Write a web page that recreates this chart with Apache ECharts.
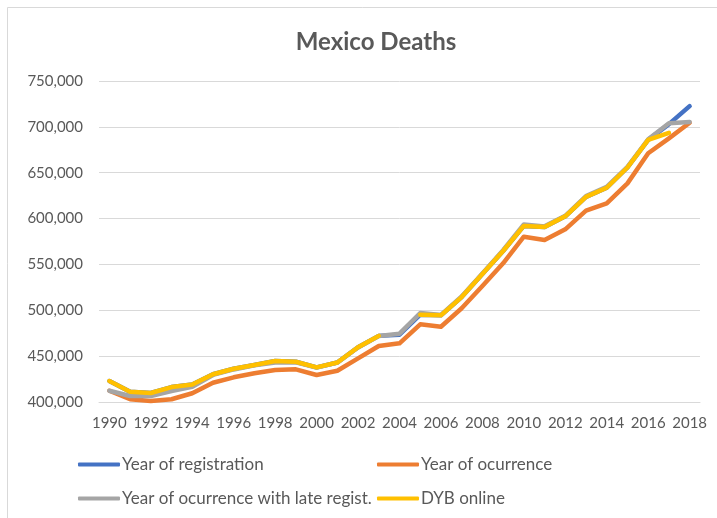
<!DOCTYPE html>
<html>
<head>
<meta charset="utf-8">
<script src="https://cdn.jsdelivr.net/npm/echarts@6/dist/echarts.min.js"></script>
<style>
  html, body { margin: 0; padding: 0; background: #fff; }
  #main { width: 717px; height: 518px; }
</style>
</head>
<body>
<div id="main"></div>
<script>
// 数据
var years = ['1990', '1991', '1992', '1993', '1994', '1995', '1996', '1997', '1998', '1999',
  '2000', '2001', '2002', '2003', '2004', '2005', '2006', '2007', '2008', '2009',
  '2010', '2011', '2012', '2013', '2014', '2015', '2016', '2017', '2018'];

var registration = [422800, 411100, 409800, 416300, 419100, 430300, 436300, 440400, 444700, 443900,
  437700, 443100, 459700, 472100, 473400, 495200, 494500, 514400, 539500, 564700,
  592000, 590700, 602400, 623600, 633600, 655700, 685800, 703000, 722600];

var occurrence = [412300, 403000, 401100, 403000, 409500, 421000, 426900, 431300, 434900, 435600,
  429400, 434100, 447600, 461000, 464000, 484700, 482100, 502200, 526500, 551200,
  580200, 576600, 588300, 608600, 616600, 638400, 671200, 687500, 704500];

var occurrenceLate = [412300, 406500, 406500, 412000, 416500, 429500, 435500, 440000, 443000, 443300,
  437500, 443000, 459500, 472000, 474500, 497000, 495000, 515000, 540000, 565500,
  593500, 591500, 603000, 624500, 634500, 656500, 686500, 704000, 705300];

var dybOnline = [422800, 411100, 409800, 416300, 419100, 430300, 436300, 440400, 444700, 443900,
  437700, 443100, 459700, 472100, null, 495200, 494500, 514400, 539500, 564700,
  592000, 590700, 602400, 623600, 633600, 655700, 685800, 693500, null];

var names = ['Year of registration', 'Year of ocurrence', 'Year of ocurrence with late regist.', 'DYB online'];
var colors = ['#4472C4', '#ED7D31', '#A5A5A5', '#FFC000'];

var chart = echarts.init(document.getElementById('main'));
var font = 'Lato';

function legendAt(name, left, top) {
  return {
    data: [name],
    left: left,
    top: top,
    icon: 'roundRect',
    itemWidth: 42,
    itemHeight: 4,
    itemGap: 0,
    padding: 0,
    textStyle: { color: '#595959', fontSize: 17, fontFamily: font, padding: [0, 0, 0, -3] }
  };
}

function lineSeries(i, data) {
  return {
    name: names[i],
    type: 'line',
    data: data,
    symbol: 'none',
    smooth: false,
    connectNulls: false,
    lineStyle: { color: colors[i], width: 4.5, cap: 'round', join: 'round' },
    itemStyle: { color: colors[i] }
  };
}

var option = {
  animation: false,
  backgroundColor: '#fff',
  graphic: [{
    type: 'rect',
    shape: { x: 7.5, y: 7.5, width: 730, height: 530 },
    style: { fill: 'none', stroke: '#d9d9d9', lineWidth: 1 },
    silent: true
  }],
  title: {
    text: 'Mexico Deaths',
    left: 371,
    top: 25,
    textAlign: 'center',
    textStyle: { color: '#595959', fontSize: 24, fontWeight: 'bold', fontFamily: font }
  },
  legend: [
    legendAt(names[0], 78, 456),
    legendAt(names[1], 377, 456),
    legendAt(names[2], 78, 490),
    legendAt(names[3], 377, 490)
  ],
  grid: { left: 99, right: 17, top: 81, bottom: 116 },
  xAxis: {
    type: 'category',
    data: years,
    boundaryGap: true,
    axisLine: { show: true, lineStyle: { color: '#d9d9d9' } },
    axisTick: { show: false },
    axisLabel: { interval: 1, color: '#595959', fontSize: 15, fontFamily: font, margin: 14 }
  },
  yAxis: {
    type: 'value',
    min: 400000,
    max: 750000,
    interval: 50000,
    axisLine: { show: false },
    axisTick: { show: false },
    splitLine: { lineStyle: { color: '#d9d9d9', width: 1 } },
    axisLabel: {
      color: '#595959', fontSize: 15, fontFamily: font, margin: 16,
      formatter: function (v) { return v.toLocaleString('en-US'); }
    }
  },
  series: [
    lineSeries(0, registration),
    lineSeries(1, occurrence),
    lineSeries(2, occurrenceLate),
    lineSeries(3, dybOnline)
  ]
};

chart.setOption(option);
</script>
</body>
</html>
